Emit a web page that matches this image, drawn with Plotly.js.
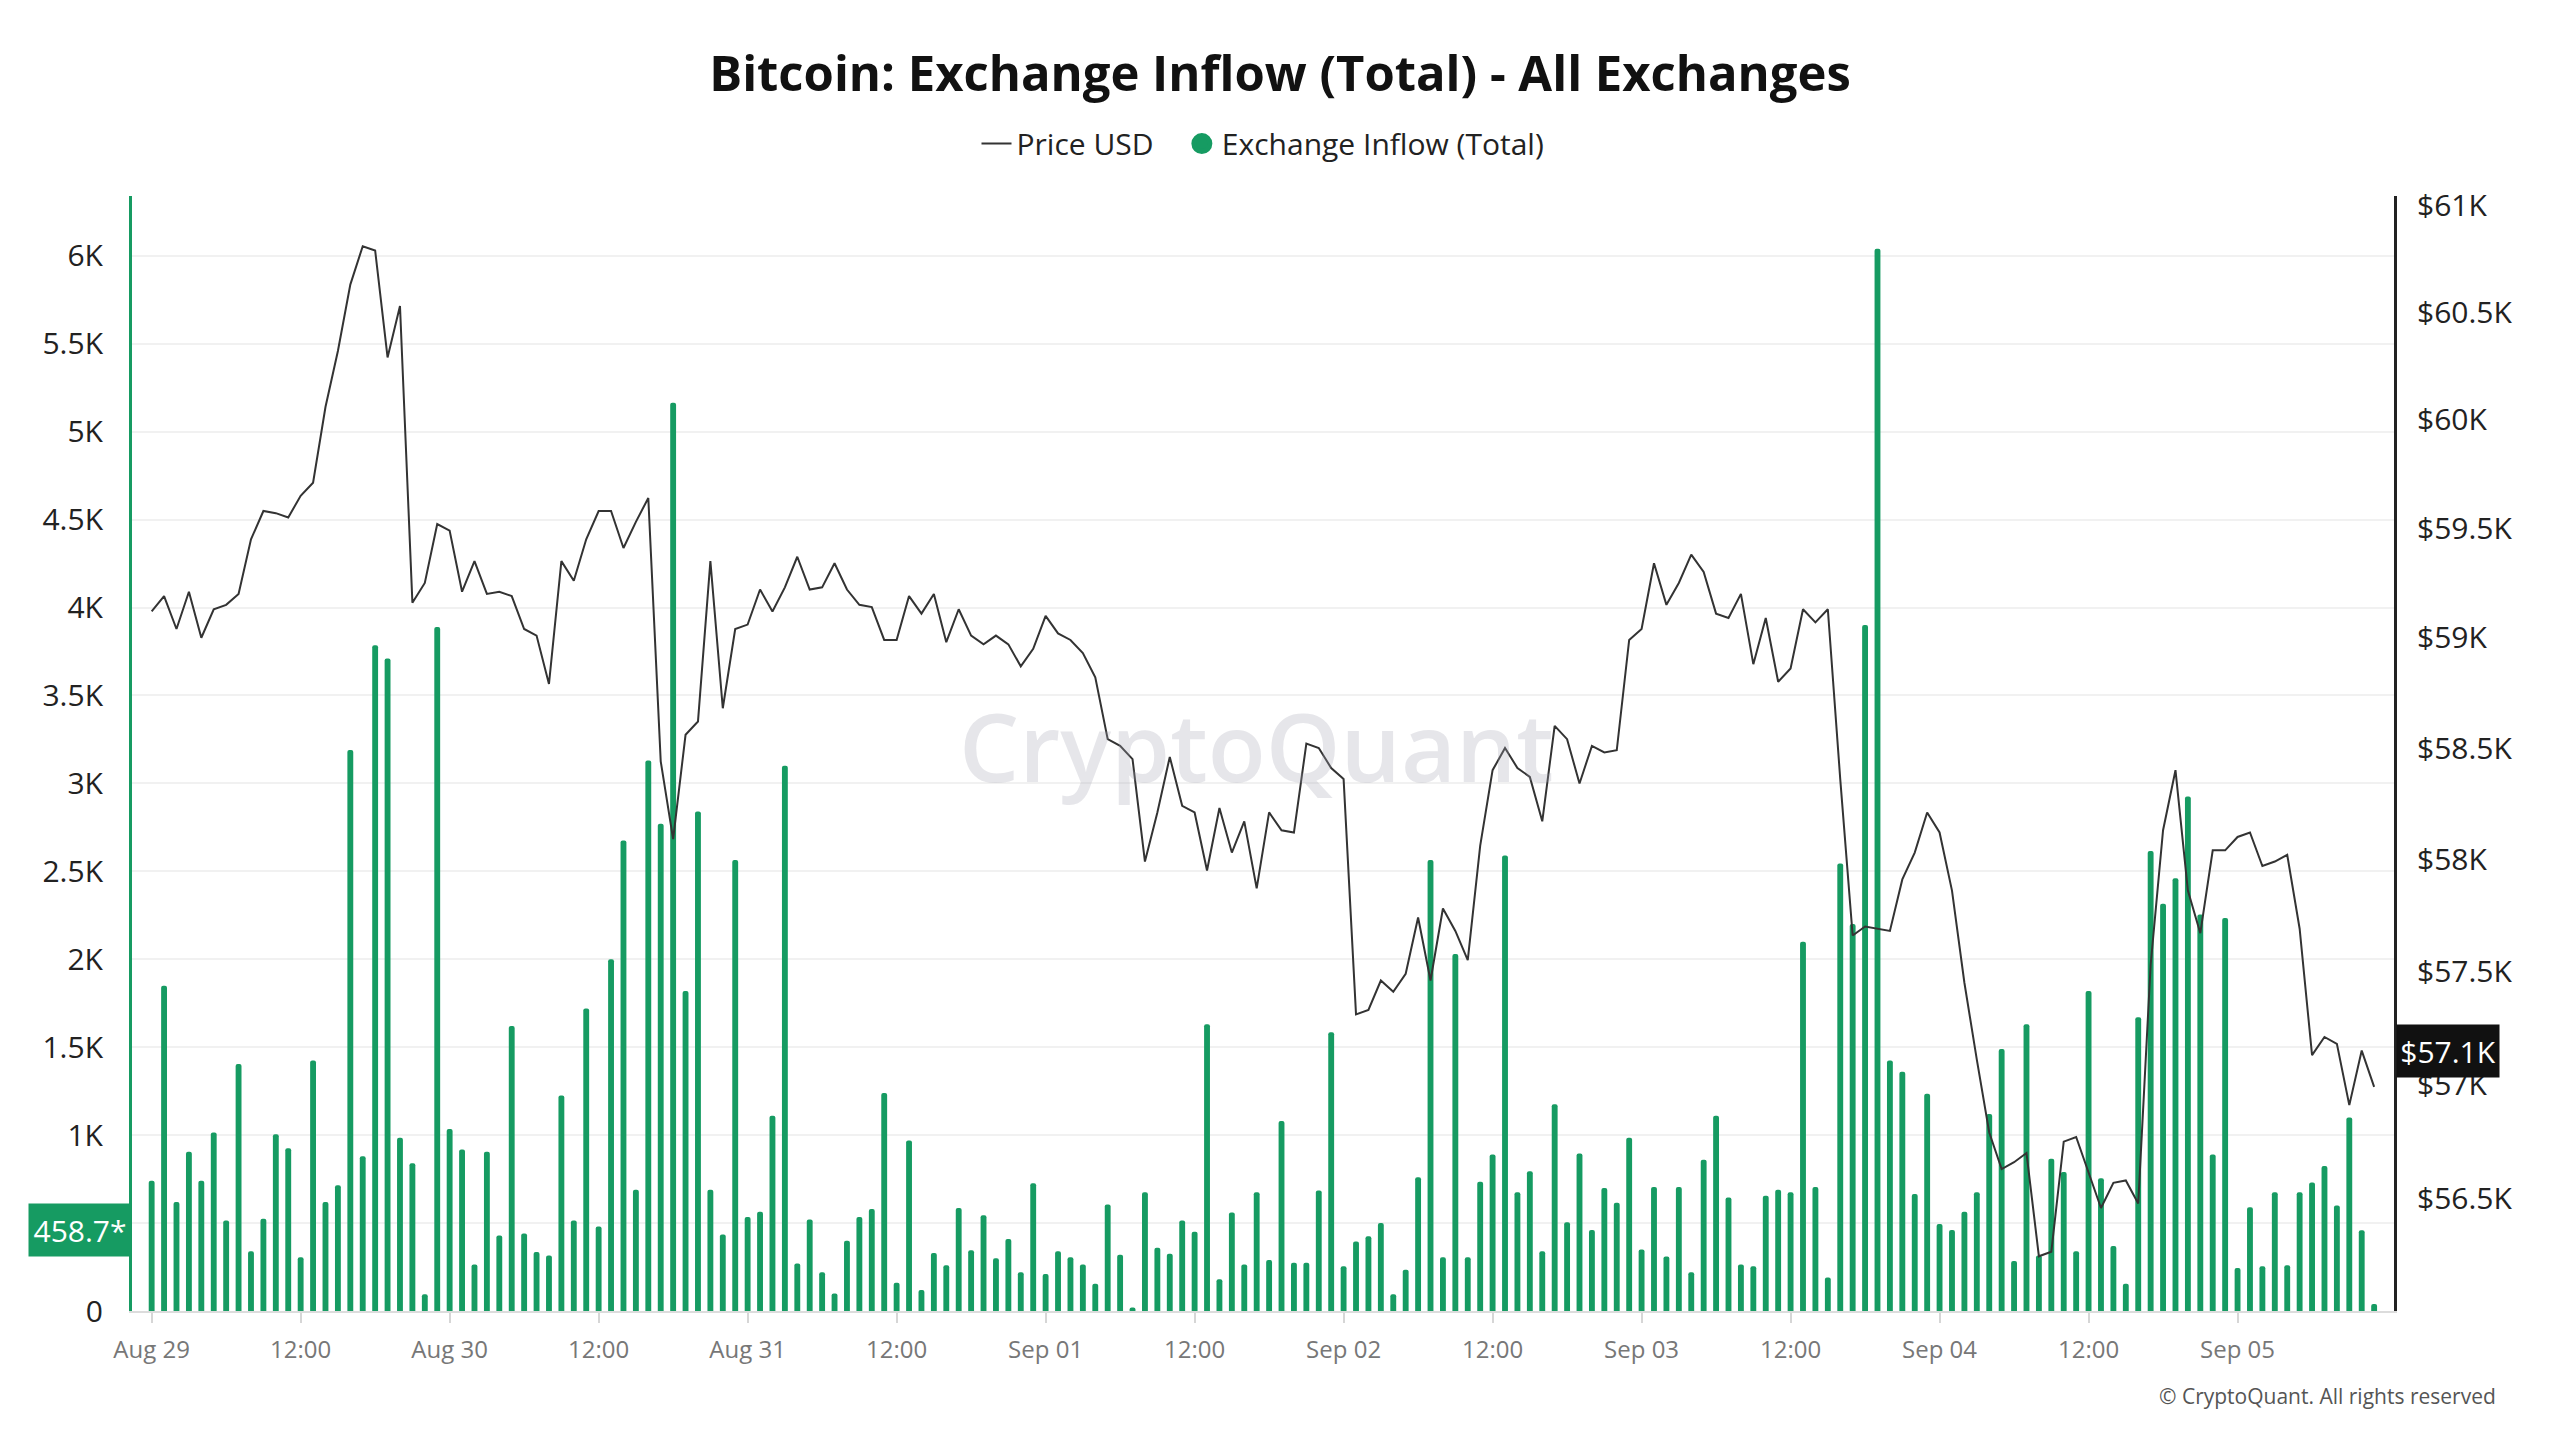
<!DOCTYPE html>
<html>
<head>
<meta charset="utf-8">
<script src="https://cdn.plot.ly/plotly-3.0.1.min.js"></script>
<style>
  body { margin: 0; background: #fff; }
</style>
</head>
<body>
<div id="graph"></div>
<script>
// hourly data, first point Aug 29 2024 00:00
const startTime = '2024-08-29T00:00:00';

const inflowTotal = [
  740, 1850, 620, 905, 740, 1015, 515, 1405, 340, 525, 1005, 925,
  305, 1425, 620, 715, 3190, 880, 3785, 3710, 985, 840, 95, 3890,
  1035, 918, 265, 905, 430, 1620, 440, 335, 315, 1225, 515, 1720,
  480, 2000, 2675, 690, 3130, 2770, 5165, 1820, 2840, 690, 435, 2565,
  535, 565, 1110, 3100, 270, 520, 220, 100, 400, 535, 580, 1240,
  160, 970, 120, 330, 260, 585, 345, 545, 300, 410, 220, 727,
  210, 340, 305, 265, 155, 605, 320, 20, 675, 360, 325, 515,
  450, 1630, 180, 560, 265, 675, 290, 1080, 275, 275, 685, 1585,
  255, 395, 425, 500, 95, 235, 760, 2565, 305, 2030, 305, 735,
  890, 2590, 675, 795, 340, 1175, 505, 895, 460, 700, 615, 985,
  350, 705, 310, 705, 220, 860, 1110, 645, 265, 255, 655, 690,
  675, 2100, 705, 190, 2545, 2200, 3900, 6040, 1425, 1360, 665, 1235,
  495, 460, 565, 675, 1120, 1490, 285, 1630, 315, 865, 790, 340,
  1820, 755, 370, 155, 1670, 2615, 2315, 2460, 2925, 2255, 890, 2235,
  245, 590, 255, 675, 260, 675, 730, 825, 600, 1100, 458.7, 40
];

const priceUsd = [
  59120, 59190, 59040, 59210, 59000, 59130, 59150, 59200, 59450, 59580, 59570, 59550,
  59650, 59710, 60060, 60320, 60630, 60810, 60790, 60290, 60530, 59160, 59250, 59520,
  59490, 59210, 59350, 59200, 59210, 59190, 59040, 59010, 58790, 59350, 59260, 59450,
  59580, 59580, 59410, 59530, 59640, 58440, 58090, 58560, 58620, 59350, 58680, 59040,
  59060, 59220, 59120, 59230, 59370, 59220, 59230, 59340, 59220, 59150, 59140, 58990,
  58990, 59190, 59110, 59200, 58980, 59130, 59010, 58970, 59010, 58970, 58870, 58950,
  59100, 59020, 58990, 58930, 58820, 58540, 58510, 58450, 57990, 58210, 58460, 58240,
  58210, 57950, 58230, 58030, 58170, 57870, 58210, 58130, 58120, 58520, 58500, 58410,
  58360, 57310, 57330, 57460, 57410, 57490, 57740, 57460, 57780, 57680, 57550, 58060,
  58400, 58500, 58410, 58370, 58170, 58600, 58540, 58340, 58510, 58480, 58490, 58990,
  59040, 59340, 59150, 59250, 59380, 59300, 59110, 59090, 59200, 58880, 59090, 58800,
  58860, 59130, 59070, 59130, 58360, 57660, 57700, 57690, 57680, 57910, 58030, 58210,
  58120, 57860, 57450, 57110, 56790, 56630, 56660, 56700, 56250, 56270, 56750, 56770,
  56610, 56460, 56570, 56580, 56480, 57530, 58130, 58400, 57860, 57670, 58040, 58040,
  58100, 58120, 57970, 57990, 58020, 57690, 57130, 57210, 57180, 56910, 57150, 56990
];

const xTickDates = [
  '2024-08-29 00:00', '2024-08-29 12:00', '2024-08-30 00:00', '2024-08-30 12:00',
  '2024-08-31 00:00', '2024-08-31 12:00', '2024-09-01 00:00', '2024-09-01 12:00',
  '2024-09-02 00:00', '2024-09-02 12:00', '2024-09-03 00:00', '2024-09-03 12:00',
  '2024-09-04 00:00', '2024-09-04 12:00', '2024-09-05 00:00'
];
const xTickLabels = [
  'Aug 29', '12:00', 'Aug 30', '12:00', 'Aug 31', '12:00', 'Sep 01', '12:00',
  'Sep 02', '12:00', 'Sep 03', '12:00', 'Sep 04', '12:00', 'Sep 05'
];

// the 500 label sits under the last-value box in the reference, so it stays blank
const inflowTicks = [0, 500, 1000, 1500, 2000, 2500, 3000, 3500, 4000, 4500, 5000, 5500, 6000];
const inflowTickLabels = ['0', '', '1K', '1.5K', '2K', '2.5K', '3K', '3.5K', '4K', '4.5K', '5K', '5.5K', '6K'];

const priceTicks = [56500, 57000, 57500, 58000, 58500, 59000, 59500, 60000, 60500, 61000];
const priceTickLabels = ['$56.5K', '$57K', '$57.5K', '$58K', '$58.5K', '$59K', '$59.5K', '$60K', '$60.5K', '$61K'];

const lastInflowLabel = '458.7*';
const lastPriceLabel = '$57.1K';
const lastPriceMark = 57150;

const green = '#169b62';

document.addEventListener('DOMContentLoaded', function(event)
{
  displayPlot('graph');
});

// one timestamp per hour, starting at startTime
function hourlyTimes(count)
{
  let times = [];
  let t0 = new Date(startTime + 'Z').getTime();
  for (let i = 0; i < count; i++)
  {
    let d = new Date(t0 + i * 3600000);
    times.push(d.toISOString().slice(0, 16).replace('T', ' '));
  }
  return times;
}

function displayPlot(divPlot)
{
  let times = hourlyTimes(inflowTotal.length);

  let inflowBars = {
    name: 'Exchange Inflow (Total)',
    x: times,
    y: inflowTotal,
    type: 'bar',
    width: 1700000,
    marker: { color: green, cornerradius: 3 },
    yaxis: 'y',
    showlegend: false,
    hoverinfo: 'x+y'
  };

  let priceLine = {
    name: 'Price USD\u00a0\u00a0\u00a0',
    x: times,
    y: priceUsd,
    type: 'scatter',
    mode: 'lines',
    line: { color: '#333', width: 2 },
    yaxis: 'y2'
  };

  // legend entry only: the reference shows a round dot for the inflow series
  let inflowLegend = {
    name: 'Exchange Inflow (Total)',
    x: [null],
    y: [null],
    type: 'scatter',
    mode: 'markers',
    marker: { color: green, size: 24, symbol: 'circle', line: { color: green, width: 8 } },
    yaxis: 'y'
  };

  let layout =
  {
    width: 2560,
    height: 1440,
    paper_bgcolor: '#fff',
    plot_bgcolor: '#fff',
    margin: { l: 132, r: 166, t: 196, b: 129 },
    font: { family: 'Open Sans, Noto Sans, sans-serif', color: '#222' },
    title: {
      text: 'Bitcoin: Exchange Inflow (Total) - All Exchanges',
      font: { size: 49, weight: 700, color: '#111' },
      x: 0.5, xanchor: 'center',
      y: 0.949, yanchor: 'middle', yref: 'container'
    },
    showlegend: true,
    legend: {
      orientation: 'h',
      x: 0.5, xanchor: 'center',
      y: 1.047, yanchor: 'middle',
      font: { size: 30, color: '#222' },
      itemwidth: 30
    },
    hovermode: 'closest',
    xaxis:
    {
      type: 'date',
      range: ['2024-08-28 22:25', '2024-09-05 12:36'],
      tickmode: 'array',
      tickvals: xTickDates,
      ticktext: xTickLabels,
      showgrid: false,
      zeroline: false,
      ticks: 'outside',
      ticklen: 10,
      tickwidth: 2,
      tickcolor: '#d6d6d6',
      ticklabelstandoff: 6,
      tickfont: { size: 24, color: '#777' },
      showline: true,
      linecolor: '#dcdcdc',
      linewidth: 2
    },
    yaxis:
    {
      range: [0, 6340],
      tickmode: 'array',
      tickvals: inflowTicks,
      ticktext: inflowTickLabels,
      showgrid: true,
      gridcolor: '#f1f1f1',
      gridwidth: 2,
      zeroline: false,
      showline: true,
      linecolor: green,
      linewidth: 3,
      ticks: '',
      ticklabelstandoff: 20,
      tickfont: { size: 30, color: '#222' }
    },
    yaxis2:
    {
      type: 'log',
      overlaying: 'y',
      side: 'right',
      range: [Math.log10(56013), Math.log10(61046)],
      tickmode: 'array',
      tickvals: priceTicks,
      ticktext: priceTickLabels,
      showgrid: false,
      zeroline: false,
      showline: true,
      linecolor: '#222',
      linewidth: 3,
      ticks: '',
      ticklabelstandoff: 14,
      tickfont: { size: 30, color: '#222' }
    },
    annotations: [
      {
        text: 'CryptoQuant',
        xref: 'paper', yref: 'paper',
        x: 0.497, y: 0.508,
        xanchor: 'center', yanchor: 'middle',
        showarrow: false,
        font: { size: 95, weight: 600, color: 'rgba(165,165,180,0.28)' }
      },
      {
        text: lastInflowLabel,
        xref: 'paper', yref: 'y',
        x: 0, y: 458.7,
        xanchor: 'right', yanchor: 'middle',
        showarrow: false,
        bgcolor: green,
        width: 100, height: 50,
        font: { size: 30, color: '#fff' }
      },
      {
        text: lastPriceLabel,
        xref: 'paper', yref: 'y2',
        x: 1, y: Math.log10(lastPriceMark),
        xanchor: 'left', yanchor: 'middle',
        xshift: 2,
        showarrow: false,
        bgcolor: '#111',
        width: 100, height: 50,
        font: { size: 30, color: '#fff' }
      },
      {
        text: '© CryptoQuant. All rights reserved',
        xref: 'paper', yref: 'paper',
        x: 1.046, y: -0.076,
        xanchor: 'right', yanchor: 'middle',
        showarrow: false,
        font: { size: 21, color: '#555' }
      }
    ]
  };

  Plotly.newPlot(divPlot, [inflowBars, priceLine, inflowLegend], layout, { displayModeBar: false });
}
</script>
</body>
</html>
